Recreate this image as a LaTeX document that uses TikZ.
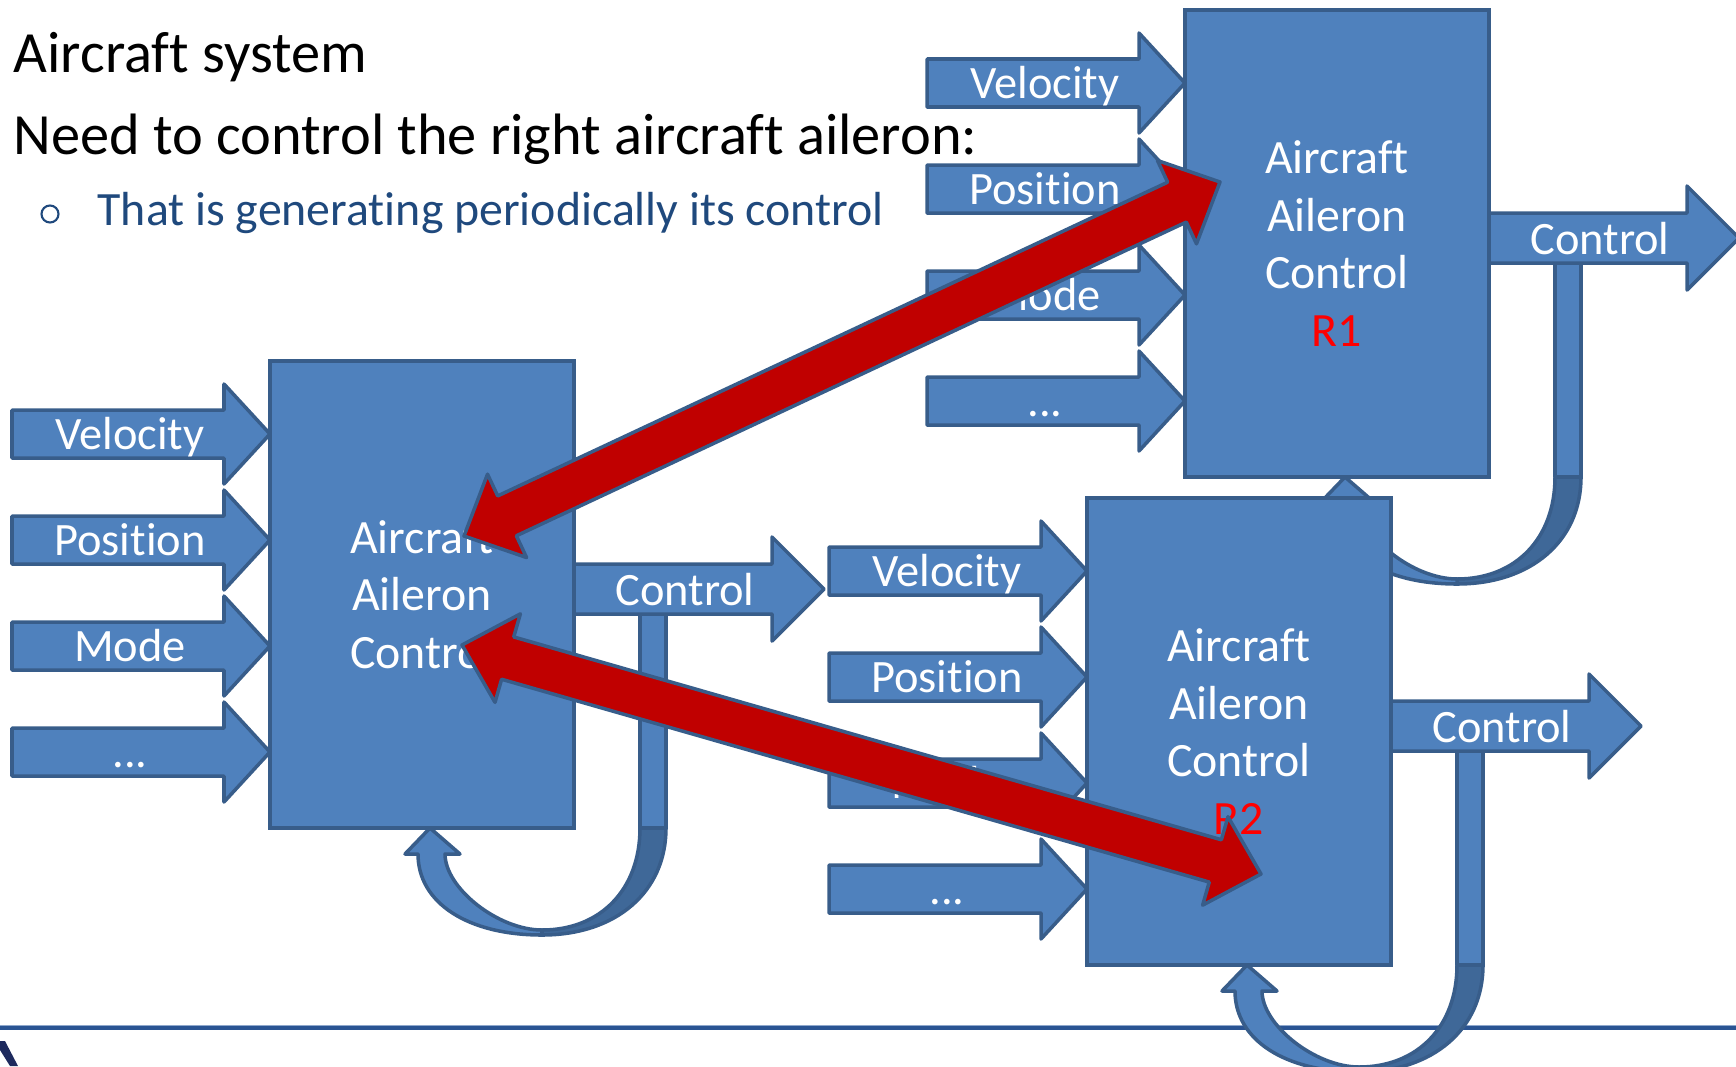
\documentclass[tikz,border=0pt]{standalone}
\usepackage{fontspec}
\setmainfont{Carlito}[Ligatures=NoCommon]
\usetikzlibrary{calc}
\definecolor{boxblue}{HTML}{4F81BD}
\definecolor{boxborder}{HTML}{385D8A}
\definecolor{darkrib}{HTML}{3F6898}
\definecolor{redA}{HTML}{C00000}
\definecolor{rlabel}{HTML}{FF0000}
\definecolor{subblue}{HTML}{1F497D}
\definecolor{rulecol}{HTML}{2A5493}
\definecolor{rulelight}{HTML}{8FA8CC}
\definecolor{logonavy}{HTML}{1E2A5E}
\tikzset{
  blk/.style={fill=boxblue, draw=boxborder, line width=1pt, line join=round},
  blkdark/.style={fill=darkrib, draw=boxborder, line width=1pt, line join=round},
  redarrow/.style={fill=redA, draw=boxborder, line width=1pt, line join=round},
  lbl/.style={text=white, font=\fontsize{13.2}{15}\selectfont, anchor=base, inner sep=0pt},
  box/.style={fill=boxblue, draw=boxborder, line width=1pt, inner sep=0pt,
    minimum width=3.04cm, minimum height=4.67cm, text=white, align=center,
    font=\fontsize{13.6}{16.4}\selectfont},
  ttl/.style={anchor=base west, inner sep=0pt, font=\fontsize{16.6}{20}\selectfont},
}
\newcommand\inarrow[3]{%
  \draw[blk] (-258,#2-24) -- (-46,#2-24) -- (-46,#2-50) -- (0,#2) -- (-46,#2+50)
     -- (-46,#2+24) -- (-258,#2+24) -- cycle;
  \node[lbl] (#1) at (-140,#2+15.5) {#3};}
\newcommand\aileron[4]{%
\begin{scope}[shift={(#2,#3)}]
  \draw[blkdark] (370,467) -- (396,467) .. controls (396,531) and (346,574) .. (272,574)
     -- (272,569) .. controls (331,569) and (370,528) .. (370,467) -- cycle;
  \draw[blk] (160,467) -- (190,493) -- (175,493) .. controls (175,527) and (228,569) .. (272,569)
     -- (272,574) .. controls (198,574) and (148,542) .. (148,493) -- (135,493) -- cycle;
  \draw[blk] (370,245) rectangle (396,467);
  \draw[blk] (304,203) -- (502,203) -- (502,176) -- (554,228) -- (502,280) -- (502,253) -- (304,253) -- cycle;
  \node[lbl] (#1c) at (415,244) {Control};
  \inarrow{#1v}{73}{Velocity}
  \inarrow{#1p}{179}{Position}
  \inarrow{#1m}{285}{Mode}
  \inarrow{#1d}{391}{...}
  \node[box] (#1) at (152,233.5) {#4};
\end{scope}}
\newcommand\dblarrow[2]{%
  \path ($(#1)!0.475cm!(#2)$) coordinate (n1) ($(#2)!0.475cm!(#1)$) coordinate (n2);
  \draw[redarrow] (#1) -- ($(n1)!0.46cm!90:(#2)$) -- ($(n1)!0.22cm!90:(#2)$)
     -- ($(n2)!0.22cm!-90:(#1)$) -- ($(n2)!0.46cm!-90:(#1)$) -- (#2)
     -- ($(n2)!0.46cm!90:(#1)$) -- ($(n2)!0.22cm!90:(#1)$)
     -- ($(n1)!0.22cm!-90:(#2)$) -- ($(n1)!0.46cm!-90:(#2)$) -- cycle;}
\begin{document}
\begin{tikzpicture}[x=0.01cm, y=-0.01cm]
\useasboundingbox (0,0) rectangle (1736,1066);
% bottom rule and logo fragment
\draw[rulelight, line width=0.4pt] (0,1025.5) -- (1736,1025.5);
\draw[rulecol, line width=0.9pt] (0,1028) -- (1736,1028);
\fill[logonavy] (0,1041) -- (5,1041) -- (18,1066) -- (10,1066) -- (0,1050) -- cycle;
% titles
\node[ttl] (t1) at (13,72) {Aircraft system};
\node[ttl] (t2) at (13,154) {Need to control the right aircraft aileron:};
\node[circle, draw=subblue, line width=0.6pt, minimum size=0.17cm, inner sep=0pt] (bul) at (50,214) {};
\node[anchor=base west, inner sep=0pt, text=subblue, font=\fontsize{13.6}{16}\selectfont] (t3) at (97,225)
  {That is generating periodically its control};
% the three controllers
\aileron{R1}{1185}{10}{Aircraft\\Aileron\\Control\\\textcolor{rlabel}{R1}}
\aileron{L}{270}{361}{Aircraft\\Aileron\\Control}
\aileron{R2}{1087}{498}{Aircraft\\Aileron\\Control\\\textcolor{rlabel}{R2}}
% red double arrows
\coordinate (a1) at (464,536);
\coordinate (b1) at (1220,182);
\coordinate (a2) at (462,645);
\coordinate (b2) at (1261,874);
\dblarrow{a1}{b1}
\dblarrow{a2}{b2}
\end{tikzpicture}
\end{document}
